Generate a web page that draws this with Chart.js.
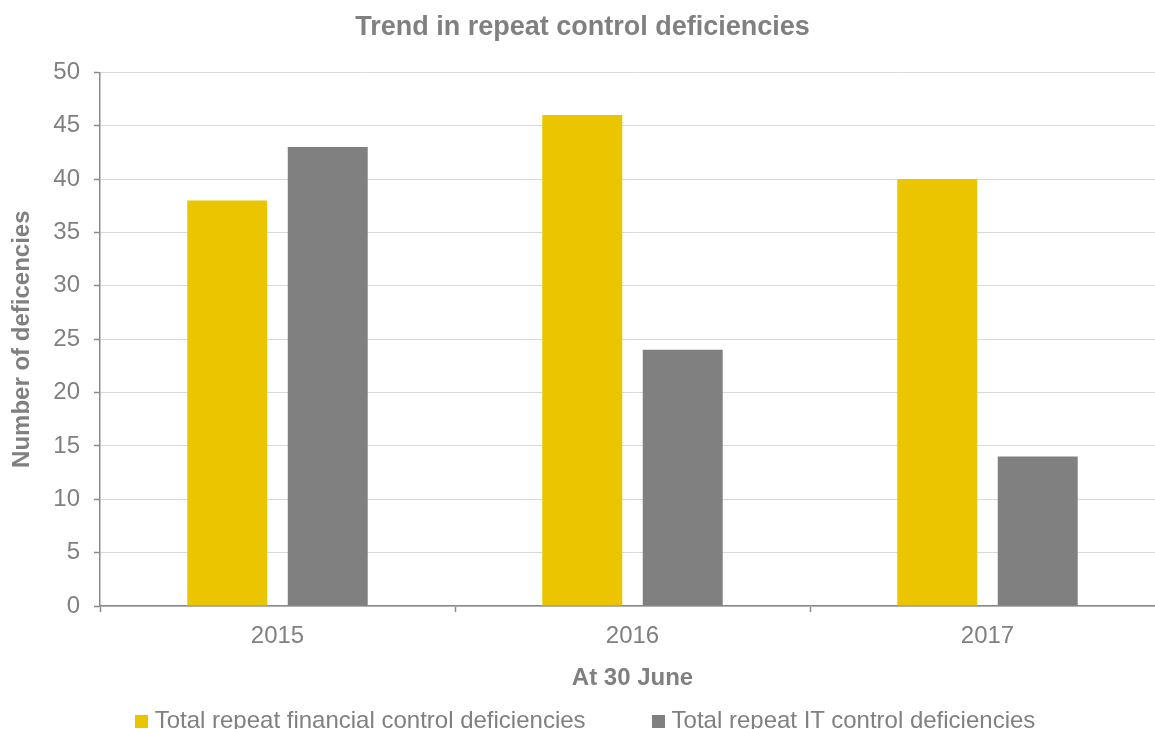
<!DOCTYPE html>
<html>
<head>
<meta charset="utf-8">
<title>Trend in repeat control deficiencies</title>
<script src="https://cdn.jsdelivr.net/npm/chart.js@4"></script>
<style>
  html, body { margin: 0; padding: 0; background: #fff; overflow: hidden; }
  #wrap { position: relative; width: 1170px; height: 729px; }
  #legend {
    position: absolute; left: 0; top: 706px; width: 1170px;
    display: flex; justify-content: center; gap: 66px;
    font: 24px "Liberation Sans", Arial, sans-serif; line-height: 28px; color: #808080;
    white-space: nowrap;
  }
  #legend .box { display: inline-block; width: 13px; height: 13px; margin-right: 7px; }
</style>
</head>
<body>
<div id="wrap">
  <canvas id="deficiencies" width="1170" height="729"></canvas>
  <div id="legend"></div>
</div>
<script>
// years (at 30 June)
var years = ["2015", "2016", "2017"];
// repeat deficiency counts per year
var financialRepeat = [38, 46, 40];
var itRepeat = [43, 24, 14];
var seriesNames = ["Total repeat financial control deficiencies", "Total repeat IT control deficiencies"];
var seriesColors = ["#EAC500", "#808080"];

var fontFamily = '"Liberation Sans", Arial, sans-serif';
var textGrey = "#808080";
var axisGrey = "#8a8a8a";

var ctx = document.getElementById("deficiencies").getContext("2d");

var chart = new Chart(ctx, {
  type: "bar",
  data: {
    labels: years,
    datasets: [
      {
        label: seriesNames[0],
        data: financialRepeat,
        backgroundColor: seriesColors[0],
        categoryPercentage: 0.566,
        barPercentage: 0.796,
      },
      {
        label: seriesNames[1],
        data: itRepeat,
        backgroundColor: seriesColors[1],
        categoryPercentage: 0.566,
        barPercentage: 0.796,
      },
    ],
  },
  options: {
    responsive: false,
    animation: false,
    layout: { padding: { left: 0, right: 5, top: 0, bottom: 23 } },
    plugins: {
      legend: { display: false },
      tooltip: { enabled: false },
      title: {
        display: true,
        text: "Trend in repeat control deficiencies",
        color: textGrey,
        font: { family: fontFamily, size: 27, weight: "bold" },
        padding: { top: 11, bottom: 29 },
      },
    },
    scales: {
      x: {
        grid: {
          drawOnChartArea: false,
          tickLength: 6,
          tickColor: axisGrey,
          tickWidth: 1.5,
        },
        border: { color: axisGrey, width: 1.5 },
        ticks: {
          color: textGrey,
          padding: 10,
          font: { family: fontFamily, size: 24 },
        },
        title: {
          display: true,
          text: "At 30 June",
          color: textGrey,
          font: { family: fontFamily, size: 24, weight: "bold" },
          padding: { top: 0, bottom: 13 },
        },
        afterFit: function (scale) {
          scale.height = 100;
        },
      },
      y: {
        min: 0,
        max: 50,
        grid: {
          color: "#d9d9d9",
          tickLength: 6,
          tickColor: axisGrey,
          tickWidth: 1.5,
        },
        border: { color: axisGrey, width: 1.5 },
        ticks: {
          stepSize: 5,
          color: textGrey,
          padding: 14,
          font: { family: fontFamily, size: 24 },
        },
        title: {
          display: true,
          text: "Number of deficencies",
          color: textGrey,
          font: { family: fontFamily, size: 24, weight: "bold" },
          padding: { top: 8, bottom: 0 },
        },
        afterFit: function (scale) {
          scale.width = 100;
        },
      },
    },
  },
});

// legend row under the chart, built from the datasets
var legend = document.getElementById("legend");
chart.data.datasets.forEach(function (ds) {
  var item = document.createElement("span");
  var box = document.createElement("span");
  box.className = "box";
  box.style.background = ds.backgroundColor;
  item.appendChild(box);
  item.appendChild(document.createTextNode(ds.label));
  legend.appendChild(item);
});
</script>
</body>
</html>
